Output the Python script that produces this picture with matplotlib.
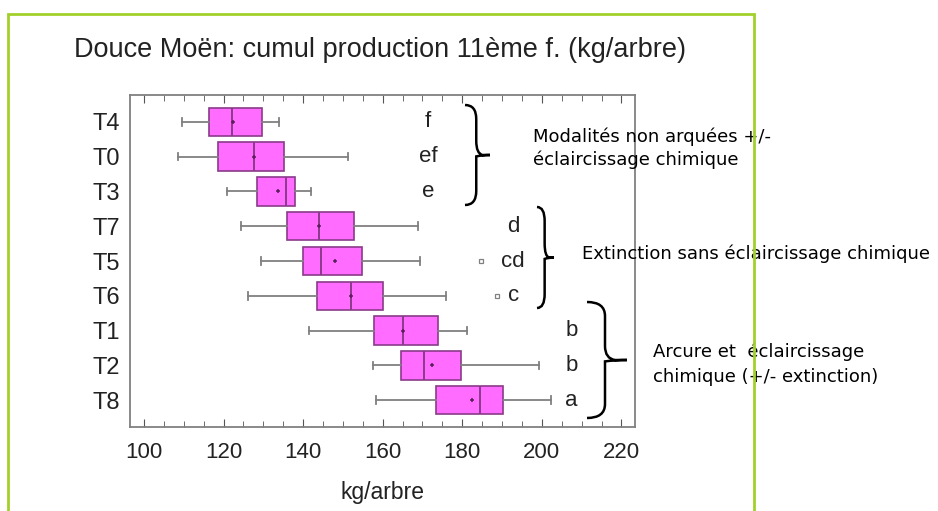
import matplotlib
matplotlib.use('Agg')
import matplotlib.pyplot as plt
from matplotlib.path import Path
from matplotlib.patches import PathPatch, Rectangle
from matplotlib.ticker import MultipleLocator

# valeurs (kg/arbre)
labels = ['T4', 'T0', 'T3', 'T7', 'T5', 'T6', 'T1', 'T2', 'T8']
whislo = [109.6, 108.5, 120.9, 124.3, 129.4, 126.2, 141.5, 157.6, 158.2]
q1 = [116.4, 118.6, 128.3, 136.0, 139.9, 143.4, 157.8, 164.5, 173.5]
med = [122.2, 127.6, 135.7, 144.1, 144.6, 152.0, 165.2, 170.4, 184.5]
mean = [122.3, 127.6, 133.7, 144.1, 148.1, 152.0, 165.2, 172.3, 182.4]
q3 = [129.6, 135.3, 137.9, 152.8, 154.9, 160.1, 174.0, 179.7, 190.3]
whishi = [134.0, 151.3, 142.0, 168.8, 169.3, 176.0, 181.3, 199.2, 202.3]
fliers = [[], [], [], [], [184.6], [188.8], [], [], []]
letters = ['f', 'ef', 'e', 'd', 'cd', 'c', 'b', 'b', 'a']
letter_x = [171.4, 171.4, 171.4, 192.7, 192.7, 193.0, 207.5, 207.5, 207.5]
groups = ['Modalités non arquées +/-\néclaircissage chimique',
          'Extinction sans éclaircissage chimique',
          'Arcure et  éclaircissage\nchimique (+/- extinction)']

W, H = 938, 511
BOX = '#ff6cff'
EDGE = '#8a3a8a'
GREY = '#808080'


def fx(x):
    return x / W


def fy(y):
    return 1 - y / H


def brace(fig, x0, y0, y1, w):
    # accolade orientée vers la droite, coordonnées en pixels
    ym = (y0 + y1) / 2
    xv = x0 + w * 0.45
    r = min(14, (y1 - y0) / 6)
    pts = [(x0, y0), (xv, y0), (xv, y0 + r), (xv, y0 + r * 1.2),
           (xv, ym - r), (xv, ym - r * 0.1), (xv + w * 0.25, ym), (x0 + w, ym),
           (xv + w * 0.25, ym), (xv, ym + r * 0.1), (xv, ym + r),
           (xv, y1 - r * 1.2), (xv, y1 - r), (xv, y1), (x0, y1)]
    codes = [Path.MOVETO, Path.CURVE3, Path.CURVE3, Path.LINETO,
             Path.LINETO, Path.CURVE3, Path.CURVE3, Path.LINETO,
             Path.CURVE3, Path.CURVE3, Path.LINETO,
             Path.LINETO, Path.LINETO, Path.CURVE3, Path.CURVE3]
    verts = [(fx(a), fy(b)) for a, b in pts]
    fig.patches.append(PathPatch(Path(verts, codes), transform=fig.transFigure,
                                 fill=False, lw=1.8, color='black'))


fig = plt.figure(figsize=(W / 100, H / 100), dpi=100)
ax = fig.add_axes([fx(130), fy(427), fx(635) - fx(130), fy(95) - fy(427)])

stats = []
for i in range(len(labels)):
    stats.append({'label': labels[i], 'whislo': whislo[i], 'q1': q1[i], 'med': med[i],
                  'mean': mean[i], 'q3': q3[i], 'whishi': whishi[i], 'fliers': fliers[i]})

pos = list(range(len(labels)))
ax.bxp(stats, positions=pos, vert=False, widths=0.82, patch_artist=True,
       showmeans=True, capwidths=0.22,
       boxprops=dict(facecolor=BOX, edgecolor=EDGE, lw=1.2),
       medianprops=dict(color=EDGE, lw=1.4),
       whiskerprops=dict(color=GREY, lw=1.3),
       capprops=dict(color=GREY, lw=1.3),
       meanprops=dict(marker='+', markersize=3.5, markeredgecolor='#5a205a', markeredgewidth=1.1),
       flierprops=dict(marker='s', markersize=3.5, markerfacecolor='white',
                       markeredgecolor=GREY, markeredgewidth=0.9))

ax.set_xlim(96.5, 223.4)
ax.set_ylim(len(labels) - 1 + 0.77, -0.77)
ax.set_yticks(pos)
ax.set_yticklabels(labels, fontsize=17, family='Liberation Sans', color='#222222')
ax.tick_params(axis='y', length=0, pad=7)
ax.xaxis.set_major_locator(MultipleLocator(20))
ax.xaxis.set_minor_locator(MultipleLocator(5))
ax.tick_params(axis='x', which='both', direction='in', top=True, colors='#555555',
               labelcolor='#222222', labelsize=16, pad=11)
ax.tick_params(axis='x', which='major', length=6)
ax.tick_params(axis='x', which='minor', length=4)
for lab in ax.get_xticklabels():
    lab.set_family('Liberation Sans')
for sp in ax.spines.values():
    sp.set_color(GREY)
    sp.set_linewidth(1.3)
ax.set_xlabel('kg/arbre', fontsize=16.5, family='Liberation Sans', labelpad=13, color='#222222')

fig.text(fx(380), fy(57), 'Douce Moën: cumul production 11ème f. (kg/arbre)',
         fontsize=19.5, family='Liberation Sans', ha='center', va='baseline', color='#222222')

for i in range(len(labels)):
    ax.text(letter_x[i], pos[i], letters[i], fontsize=16, family='Liberation Sans',
            ha='center', va='center', color='#222222')

brace(fig, 465, 105, 205, 25)
brace(fig, 537, 207, 308, 17)
brace(fig, 587, 302, 418, 40)

fig.text(fx(533), fy(141.5), groups[0].split('\n')[0], fontsize=13, va='baseline', zorder=5)
fig.text(fx(533), fy(165), groups[0].split('\n')[1], fontsize=13, va='baseline', zorder=5)
fig.text(fx(582), fy(259), groups[1], fontsize=13, va='baseline', zorder=5)
fig.text(fx(653), fy(357), groups[2].split('\n')[0], fontsize=13, va='baseline', zorder=5)
fig.text(fx(653), fy(382), groups[2].split('\n')[1], fontsize=13, va='baseline', zorder=5)

# cadre vert
fig.patches.append(Rectangle((fx(8), fy(700)), fx(754) - fx(8), fy(14) - fy(700),
                             transform=fig.transFigure, fill=False,
                             edgecolor='#a2d02a', lw=2, zorder=10))

fig.savefig('out.png', dpi=100)
